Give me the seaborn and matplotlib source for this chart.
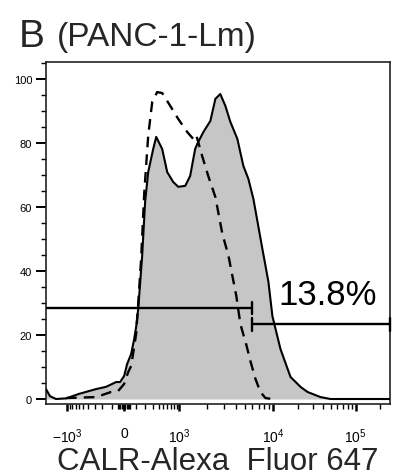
import numpy as np
import pandas as pd
import matplotlib
matplotlib.use("Agg")
import matplotlib.pyplot as plt
import seaborn as sns
from matplotlib.ticker import FixedLocator, FixedFormatter, MultipleLocator

# ---------------- data ----------------
FILL_X = [-2360, -2010, -1570, -1040, -605, -280, -160, -66, -33, 0, 25, 60, 87, 105, 125,
          166, 200, 238, 309, 358, 474, 593, 772, 958, 1160, 1310, 1480, 1560, 1810, 2150,
          2430, 2740, 3100, 3500, 4150, 4810, 5430, 6140, 7640, 8850, 9750, 12180, 16130,
          21340, 25980, 37430, 49560, 86950, 262144]
FILL_Y = [3.1, 0.9, 0.0, 0.2, 1.6, 3.1, 3.8, 5.3, 5.3, 7.2, 10.9, 14.1, 18.8, 22.5, 28.1,
          44.7, 61.6, 70.9, 78.1, 81.9, 78.1, 70.9, 67.8, 66.3, 66.6, 69.7, 78.1, 79.7, 83.4, 86.9,
          93.8, 95.3, 91.6, 86.6, 81.3, 72.8, 68.8, 62.5, 46.9, 36.6, 25.9, 15.6, 6.9,
          3.8, 2.2, 0.6, 0.0, 0.0, 0.0]

DASH_X = [-1040, -446, -280, -110, -49, 0, 34, 60, 105, 125, 155, 189, 238, 294, 375, 474,
          677, 958, 1220, 1410, 1520, 1760, 2040, 2430, 2880, 3330, 4050, 4470, 5170, 5700,
          6450, 7280, 8230, 9750]
DASH_Y = [0.3, 0.5, 0.6, 2.2, 2.5, 4.7, 8.4, 10.3, 20.3, 29.7, 43.8, 64.1, 82.2, 92.8, 95.9, 95.6,
          91.6, 87.5, 83.4, 81.3, 82.5, 75.9, 69.7, 63.1, 51.6, 45.0, 32.2, 23.4, 16.9, 11.9,
          6.3, 2.2, 0.3, 0.0]

GATE_BOUND = 6000
GATE_LEFT_Y = 28.4
GATE_RIGHT_Y = 23.4
GATE_PCT = "13.8%"

X_MAJOR = [-1000, 0, 1000, 10000, 100000]
X_MAJOR_LABELS = [r"$\mathregular{-10^3}$", "0", r"$\mathregular{10^3}$",
                  r"$\mathregular{10^4}$", r"$\mathregular{10^5}$"]
Y_MAJOR = [0, 20, 40, 60, 80, 100]

TITLE_LETTER = "B"
TITLE_TEXT = "(PANC-1-Lm)"
XLABEL = "CALR-Alexa  Fluor 647"

# ---------------- biexponential-like scale ----------------
W = 200.0
SCALE_X = np.array([-1e5, -1000, 0, 1000, 1e4, 1e5, 1e7])
SCALE_U = np.arcsinh(SCALE_X / W)
SCALE_P = np.array([-46.3, 67, 124, 179, 273, 355, 519.0])


def fwd(x):
    x = np.asarray(x, dtype=float)
    return np.interp(np.arcsinh(x / W), SCALE_U, SCALE_P)


def inv(p):
    p = np.asarray(p, dtype=float)
    return W * np.sinh(np.interp(p, SCALE_P, SCALE_U))


# ---------------- style ----------------
sns.set_theme(style="ticks")
plt.rcParams["font.family"] = ["Liberation Sans", "DejaVu Sans"]
plt.rcParams["mathtext.fontset"] = "custom"
plt.rcParams["mathtext.rm"] = "Liberation Sans"
plt.rcParams["mathtext.it"] = "Liberation Sans:italic"
plt.rcParams["mathtext.bf"] = "Liberation Sans:bold"

W_PX, H_PX = 395, 477
fig = plt.figure(figsize=(W_PX / 100, H_PX / 100), dpi=100)
fig.patch.set_facecolor("white")

L, R, T, B = 46, 390, 63, 405
ax = fig.add_axes([L / W_PX, 1 - B / H_PX, (R - L) / W_PX, (B - T) / H_PX])
ax.set_facecolor("white")
ax.set_xscale("function", functions=(fwd, inv))
ax.set_xlim(-2360, 262144)
ax.set_ylim(-1.56, 105.3)

df_fill = pd.DataFrame({"x": FILL_X, "y": FILL_Y})
df_dash = pd.DataFrame({"x": DASH_X, "y": DASH_Y})

ax.fill_between(df_fill["x"], 0, df_fill["y"], color="#c6c6c6", lw=0, zorder=1)
sns.lineplot(data=df_fill, x="x", y="y", ax=ax, color="black", lw=1.5, sort=False,
             estimator=None, zorder=3)
sns.lineplot(data=df_dash, x="x", y="y", ax=ax, color="black", lw=1.7, sort=False,
             estimator=None, linestyle=(0, (4.5, 3)), zorder=4)

# gates
xmin, xmax = ax.get_xlim()
ax.plot([xmin, GATE_BOUND], [GATE_LEFT_Y, GATE_LEFT_Y], color="black", lw=1.7, zorder=5)
ax.plot([GATE_BOUND, GATE_BOUND], [GATE_LEFT_Y - 1.8, GATE_LEFT_Y + 2.0], color="black", lw=1.7, zorder=5)
ax.plot([GATE_BOUND, xmax], [GATE_RIGHT_Y, GATE_RIGHT_Y], color="black", lw=1.7, zorder=5)
ax.plot([GATE_BOUND, GATE_BOUND], [GATE_RIGHT_Y - 2.0, GATE_RIGHT_Y + 1.8], color="black", lw=1.7, zorder=5)
ax.plot([xmax, xmax], [GATE_RIGHT_Y - 2.0, GATE_RIGHT_Y + 2.0], color="black", lw=1.7, zorder=5,
        clip_on=False)

ax.text((278 - L) / (R - L), (B - 305) / (B - T), GATE_PCT, transform=ax.transAxes,
        fontsize=25, ha="left", va="baseline", color="black")

# ticks
minor_x = []
for d in [10, 100]:
    for k in range(1, 10):
        if d == 10 and k > 5:
            continue
        minor_x += [k * d, -k * d]
for d in [1000, 10000]:
    minor_x += [k * d for k in range(2, 10)]
minor_x += [200000]
ax.xaxis.set_major_locator(FixedLocator(X_MAJOR))
ax.xaxis.set_major_formatter(FixedFormatter(X_MAJOR_LABELS))
ax.xaxis.set_minor_locator(FixedLocator(sorted(minor_x)))
ax.tick_params(axis="x", which="major", direction="out", length=5, width=1.8,
               labelsize=10, pad=11, colors="black")
ax.tick_params(axis="x", which="minor", direction="out", length=3.5, width=1.0, colors="black")

ax.yaxis.set_major_locator(FixedLocator(Y_MAJOR))
ax.yaxis.set_minor_locator(MultipleLocator(5))
ax.tick_params(axis="y", which="major", direction="out", length=7, width=1.4,
               labelsize=8, pad=3, colors="black")
ax.tick_params(axis="y", which="minor", direction="out", length=3.5, width=1.0, colors="black")

for s in ax.spines.values():
    s.set_visible(True)
    s.set_color("#222222")
    s.set_linewidth(1.2)
ax.set_xlabel("")
ax.set_ylabel("")

# titles / labels
fig.text(19 / W_PX, 1 - 47 / H_PX, TITLE_LETTER, fontsize=28, ha="left", va="baseline")
fig.text(57 / W_PX, 1 - 46 / H_PX, TITLE_TEXT, fontsize=24, ha="left", va="baseline")
fig.text(57 / W_PX, 1 - 470 / H_PX, XLABEL, fontsize=22.5, ha="left", va="baseline")

fig.savefig("out.png", dpi=100, facecolor="white")
